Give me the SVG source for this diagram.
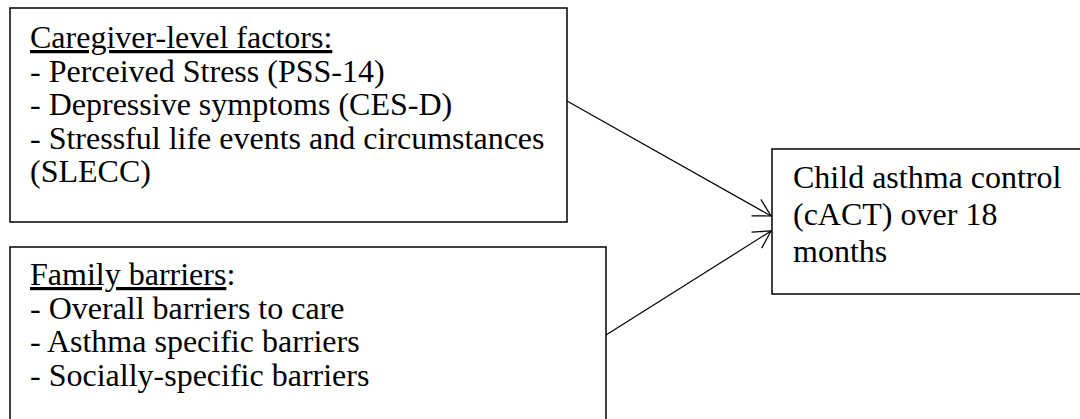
<svg xmlns="http://www.w3.org/2000/svg" width="1080" height="419" viewBox="0 0 1080 419">
<defs>
<style>
.box{fill:#fff;stroke:#000;stroke-width:1.5}
.t{font-family:"Liberation Serif","Times New Roman",serif;font-size:32px;fill:#000}
.u{text-decoration:underline}
.c{stroke:#000;stroke-width:1.2;fill:none}
</style>
<marker id="ah" markerUnits="userSpaceOnUse" markerWidth="24" markerHeight="24" viewBox="-22 -12 24 24" refX="0" refY="0" orient="auto">
<path d="M-17,-9.5 L0,0 L-17,9.5" fill="none" stroke="#000" stroke-width="1.2"/>
</marker>
</defs>
<rect width="1080" height="419" fill="#fff"/>
<g id="connectors">
<line class="c" x1="567" y1="101" x2="771" y2="216" marker-end="url(#ah)"/>
<line class="c" x1="606" y1="335" x2="771" y2="231" marker-end="url(#ah)"/>
</g>
<g id="caregiver">
<rect class="box" x="10" y="8" width="557" height="214"/>
<text class="t" x="30" y="48"><tspan class="u">Caregiver-level factors:</tspan></text>
<text class="t" x="30" y="81.5">- Perceived Stress (PSS-14)</text>
<text class="t" x="30" y="115">- Depressive symptoms (CES-D)</text>
<text class="t" x="30" y="148.5">- Stressful life events and circumstances</text>
<text class="t" x="30" y="182">(SLECC)</text>
</g>
<g id="family">
<rect class="box" x="10" y="247" width="596" height="190"/>
<text class="t" x="30" y="285"><tspan class="u">Family barriers</tspan>:</text>
<text class="t" x="30" y="318.5">- Overall barriers to care</text>
<text class="t" x="30" y="352">- Asthma specific barriers</text>
<text class="t" x="30" y="385.5">- Socially-specific barriers</text>
</g>
<g id="outcome">
<rect class="box" x="772" y="149" width="330" height="145"/>
<text class="t" x="793" y="188">Child asthma control</text>
<text class="t" x="793" y="225">(cACT) over 18</text>
<text class="t" x="793" y="262">months</text>
</g>
</svg>
